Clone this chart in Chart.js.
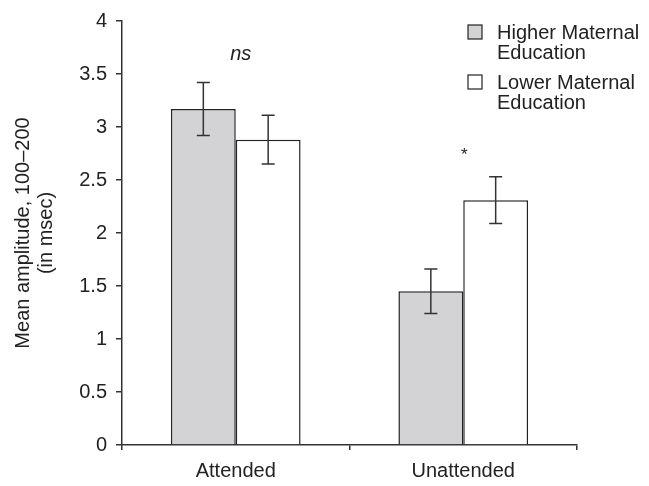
<!DOCTYPE html>
<html>
<head>
<meta charset="utf-8">
<script src="https://cdn.jsdelivr.net/npm/chart.js@4.4.0/dist/chart.umd.min.js"></script>
<style>
  html, body { margin: 0; padding: 0; background: #fff; }
  #wrap { width: 649px; height: 486px; }
</style>
</head>
<body>
<div id="wrap"><canvas id="chart"></canvas></div>
<script>
// data
var categories = ["Attended", "Unattended"];
var higherValues = [3.17, 1.45];
var higherErr = [0.25, 0.21];
var lowerValues = [2.88, 2.31];
var lowerErr = [0.23, 0.22];
var seriesNames = [["Higher Maternal", "Education"], ["Lower Maternal", "Education"]];
var marks = ["ns", "*"];
var markValues = [3.68, 2.73];

var FONT = "'Liberation Sans', Arial, sans-serif";
var INK = "#222";

// error bars drawn from the scales
var errorBars = {
  id: "errorBars",
  afterDatasetsDraw: function(chart) {
    var ctx = chart.ctx;
    var y = chart.scales.y;
    var errs = [higherErr, lowerErr];
    ctx.save();
    ctx.strokeStyle = "#333";
    ctx.lineWidth = 1.5;
    chart.data.datasets.forEach(function(ds, i) {
      chart.getDatasetMeta(i).data.forEach(function(bar, j) {
        var v = ds.data[j];
        var top = y.getPixelForValue(v + errs[i][j]);
        var bot = y.getPixelForValue(v - errs[i][j]);
        ctx.beginPath();
        ctx.moveTo(bar.x, top); ctx.lineTo(bar.x, bot);
        ctx.moveTo(bar.x - 6.5, top); ctx.lineTo(bar.x + 6.5, top);
        ctx.moveTo(bar.x - 6.5, bot); ctx.lineTo(bar.x + 6.5, bot);
        ctx.stroke();
      });
    });
    ctx.restore();
  }
};

// significance marks and legend
var extras = {
  id: "extras",
  afterDraw: function(chart) {
    var ctx = chart.ctx;
    var x = chart.scales.x, y = chart.scales.y;
    ctx.save();
    ctx.fillStyle = INK;
    ctx.textAlign = "center";
    ctx.textBaseline = "middle";
    ctx.font = "italic 20px " + FONT;
    ctx.fillText(marks[0], x.getPixelForValue(0) + 5, y.getPixelForValue(markValues[0]));
    ctx.font = "17px " + FONT;
    ctx.fillText(marks[1], x.getPixelForValue(1) + 1, y.getPixelForValue(markValues[1]));

    // legend
    ctx.textAlign = "left";
    ctx.font = "20px " + FONT;
    chart.data.datasets.forEach(function(ds, i) {
      var top = 25 + i * 50;
      ctx.fillStyle = ds.backgroundColor;
      ctx.fillRect(468, top, 14, 14);
      ctx.strokeStyle = INK;
      ctx.lineWidth = 1.2;
      ctx.strokeRect(468, top, 14, 14);
      ctx.fillStyle = INK;
      seriesNames[i].forEach(function(line, k) {
        ctx.fillText(line, 497, top + 8 + k * 20);
      });
    });
    ctx.restore();
  }
};

new Chart(document.getElementById("chart"), {
  type: "bar",
  data: {
    labels: categories,
    datasets: [
      {
        label: seriesNames[0].join(" "),
        data: higherValues,
        backgroundColor: "#d3d3d5",
        borderColor: INK,
        borderWidth: 1.5,
        barPercentage: 1,
        categoryPercentage: 0.57
      },
      {
        label: seriesNames[1].join(" "),
        data: lowerValues,
        backgroundColor: "#ffffff",
        borderColor: INK,
        borderWidth: 1.5,
        barPercentage: 1,
        categoryPercentage: 0.57
      }
    ]
  },
  options: {
    responsive: true,
    maintainAspectRatio: false,
    animation: false,
    layout: { padding: { top: 16, right: 72, left: 0, bottom: 0 } },
    plugins: {
      legend: { display: false },
      tooltip: { enabled: false }
    },
    scales: {
      x: {
        grid: { drawOnChartArea: false, offset: true, tickLength: 5, color: "#333", lineWidth: 1.5 },
        border: { color: "#333", width: 1.5 },
        ticks: { color: INK, font: { family: FONT, size: 20 }, padding: 9 },
        afterFit: function(scale) { scale.height = 41; }
      },
      y: {
        min: 0,
        max: 4,
        grid: { drawOnChartArea: false, tickLength: 6, color: "#333", lineWidth: 1.5 },
        border: { color: "#333", width: 1.5 },
        ticks: {
          stepSize: 0.5,
          color: INK,
          font: { family: FONT, size: 20 },
          padding: 9,
          callback: function(v) { return v; }
        },
        title: {
          display: true,
          text: ["Mean amplitude, 100\u2013200", "(in msec)"],
          color: INK,
          font: { family: FONT, size: 20, lineHeight: 1.15 },
          padding: { top: 12, bottom: 0 }
        },
        afterFit: function(scale) { scale.width = 122; }
      }
    }
  },
  plugins: [errorBars, extras]
});
</script>
</body>
</html>
